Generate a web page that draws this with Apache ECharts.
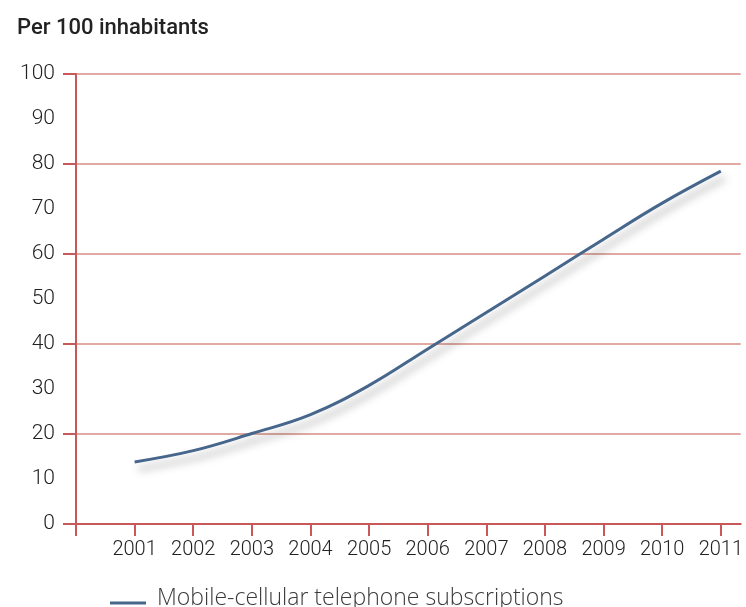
<!DOCTYPE html>
<html>
<head>
<meta charset="utf-8">
<script src="https://cdn.jsdelivr.net/npm/echarts@6/dist/echarts.min.js"></script>
<style>
  html, body { margin: 0; padding: 0; background: #fff; }
  #chart { width: 746px; height: 607px; }
</style>
</head>
<body>
<div id="chart"></div>
<script>
const years = [2001, 2002, 2003, 2004, 2005, 2006, 2007, 2008, 2009, 2010, 2011];
const subscriptions = [13.8, 16.3, 20.1, 24.3, 30.8, 38.9, 47.0, 55.1, 63.3, 71.3, 78.4];
const seriesName = "Mobile-cellular telephone subscriptions";
const yTicks = [0, 20, 40, 60, 80, 100];
const xTicks = [2000, 2001, 2002, 2003, 2004, 2005, 2006, 2007, 2008, 2009, 2010, 2011];

const chart = echarts.init(document.getElementById("chart"));

const axisRed = "#c8595a";
const gridRed = "#dfaaa2";
const labelFont = "Roboto";

// legend icon: thin bar sitting low in its box, so it lines up a bit below the text
const legendIcon = "path://M0,0 L36,0 L36,0.05 L0,0.05 Z M0,9 L36,9 L36,12 L0,12 Z";

const option = {
  animation: false,
  title: {
    text: "Per 100 inhabitants",
    left: 12,
    top: 12,
    textStyle: {
      fontFamily: labelFont,
      fontSize: 22,
      fontWeight: 500,
      color: "#222",
    },
  },
  legend: {
    data: [{ name: seriesName, icon: legendIcon }],
    left: 105,
    top: 582,
    itemWidth: 36,
    itemHeight: 12,
    itemGap: 0,
    textStyle: {
      fontFamily: "Open Sans",
      fontSize: 23,
      fontWeight: 300,
      color: "#3a3a3a",
      padding: [0, 0, 0, 6],
    },
  },
  grid: {
    left: 76,
    right: 3,
    top: 74,
    bottom: 83,
    containLabel: false,
  },
  xAxis: {
    type: "value",
    min: 2000,
    max: 2011.34,
    interval: 1,
    axisLine: { lineStyle: { color: axisRed, width: 2 } },
    axisTick: {
      customValues: xTicks,
      length: 12,
      lineStyle: { color: axisRed, width: 2 },
    },
    axisLabel: {
      customValues: years,
      margin: 16,
      fontFamily: labelFont,
      fontSize: 20,
      fontWeight: 300,
      color: "#222",
      formatter: (v) => String(v),
    },
    splitLine: { show: false },
  },
  yAxis: {
    type: "value",
    min: 0,
    max: 100,
    interval: 10,
    axisLine: { show: true, lineStyle: { color: axisRed, width: 2 } },
    axisTick: {
      customValues: yTicks,
      length: 13,
      lineStyle: { color: axisRed, width: 2 },
    },
    axisLabel: {
      margin: 21,
      fontFamily: labelFont,
      fontSize: 21,
      fontWeight: 300,
      color: "#222",
    },
    splitLine: {
      show: true,
      lineStyle: { color: gridRed, width: 2 },
    },
  },
  series: [
    {
      name: seriesName,
      type: "line",
      data: years.map((y, i) => [y, subscriptions[i]]),
      smooth: 0.4,
      showSymbol: false,
      color: "#46668c",
      lineStyle: {
        color: "#46668c",
        width: 3,
        shadowColor: "rgba(0,0,0,0.35)",
        shadowBlur: 8,
        shadowOffsetX: 4,
        shadowOffsetY: 7,
      },
    },
  ],
};

chart.setOption(option);
</script>
</body>
</html>
